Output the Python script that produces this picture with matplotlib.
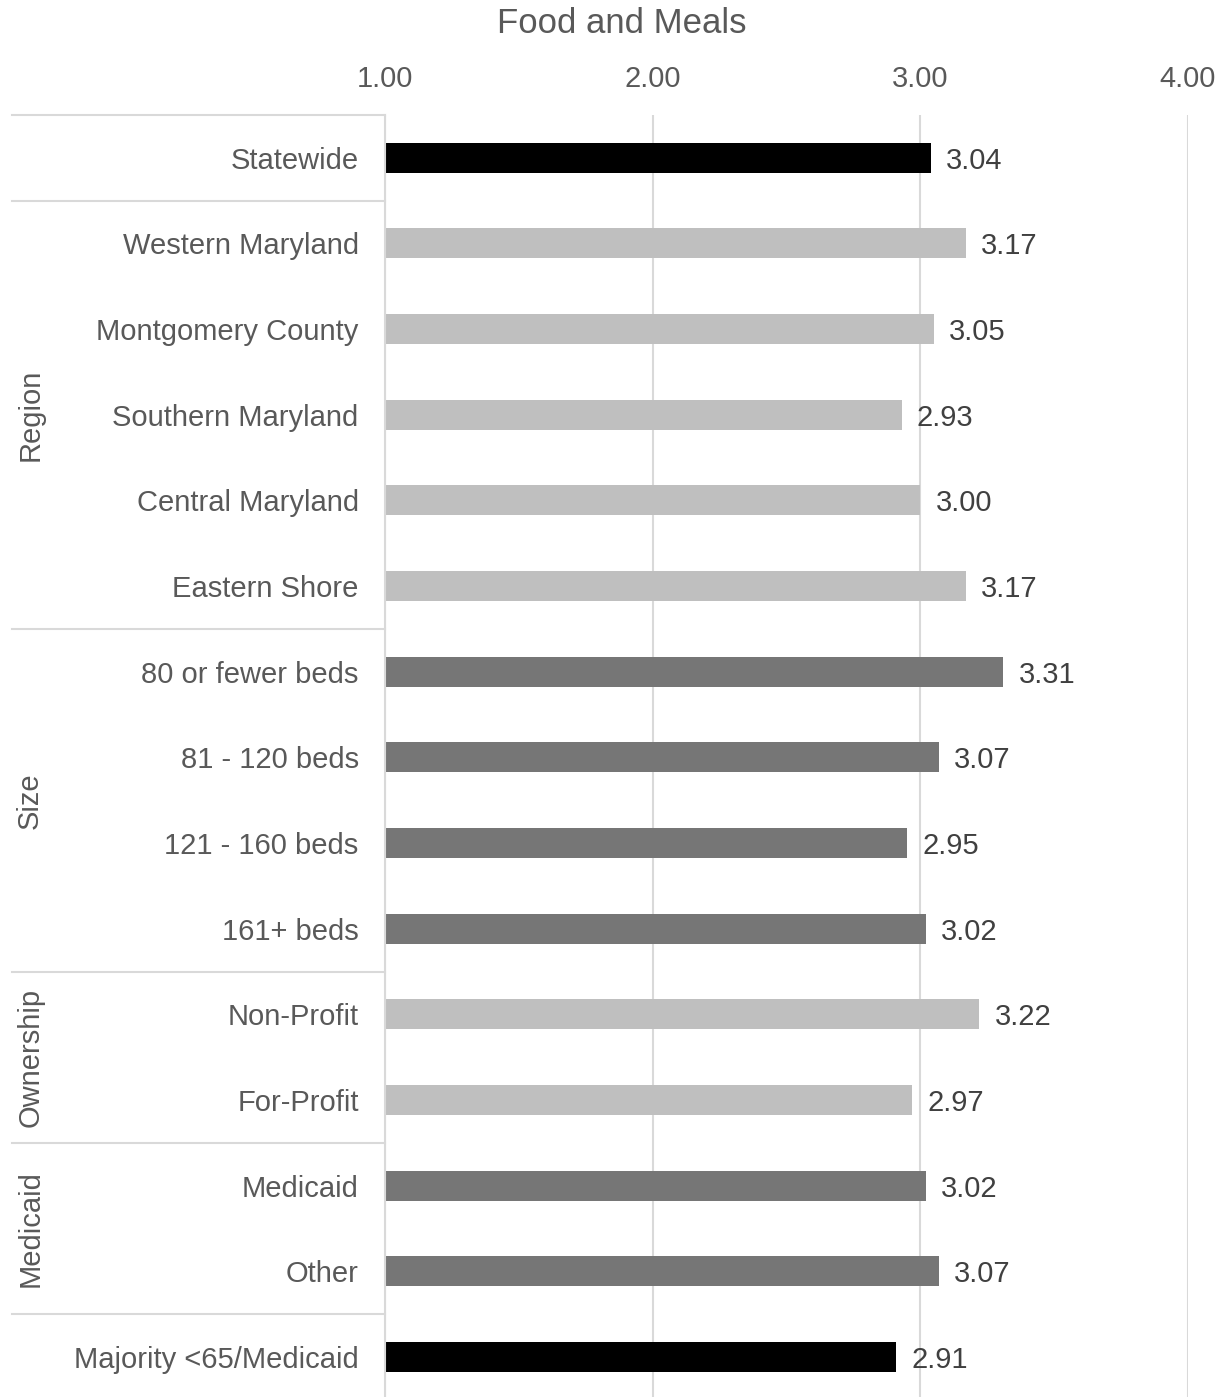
import matplotlib.pyplot as plt
from matplotlib import transforms

plt.rcParams["font.family"] = ["Liberation Sans", "DejaVu Sans"]

labels = [
    "Statewide",
    "Western Maryland", "Montgomery County", "Southern Maryland",
    "Central Maryland", "Eastern Shore",
    "80 or fewer beds", "81 - 120 beds", "121 - 160 beds", "161+ beds",
    "Non-Profit", "For-Profit",
    "Medicaid", "Other",
    "Majority <65/Medicaid",
]
values = [3.04, 3.17, 3.05, 2.93, 3.00, 3.17, 3.31, 3.07, 2.95, 3.02,
          3.22, 2.97, 3.02, 3.07, 2.91]
groups = ["Statewide", "Region", "Region", "Region", "Region", "Region",
          "Size", "Size", "Size", "Size", "Ownership", "Ownership",
          "Medicaid", "Medicaid", "Majority"]
group_colors = {
    "Statewide": "#000000", "Region": "#BFBFBF", "Size": "#767676",
    "Ownership": "#BFBFBF", "Medicaid": "#767676", "Majority": "#000000",
}
group_titles = ["Region", "Size", "Ownership", "Medicaid"]

fig = plt.figure(figsize=(12.27, 13.97), dpi=100)
ax = fig.add_axes([0.3138, -0.0021, 0.6544, 0.9198])

ypos = list(range(len(labels)))
colors = [group_colors[g] for g in groups]
ax.barh(ypos, [v - 1 for v in values], left=1, height=0.35, color=colors, zorder=2)

for y, v in zip(ypos, values):
    ax.annotate(f"{v:.2f}", (v, y), xytext=(11, 0), textcoords="offset points",
                ha="left", va="center_baseline", fontsize=21, color="#404040")

ax.set_xlim(1, 4)
ax.set_ylim(14.5, -0.5)
ax.set_xticks([1, 2, 3, 4])
ax.set_xticklabels(["1.00", "2.00", "3.00", "4.00"])
ax.xaxis.tick_top()
ax.tick_params(axis="x", length=0, pad=16, labelsize=21, labelcolor="#595959")
ax.set_yticks(ypos)
ax.set_yticklabels(labels)
ax.tick_params(axis="y", length=0, pad=19, labelsize=21, labelcolor="#595959")
ax.grid(axis="x", color="#D9D9D9", linewidth=1.5, zorder=0)
for s in ["top", "right", "bottom"]:
    ax.spines[s].set_visible(False)
ax.spines["left"].set_color("#D9D9D9")
ax.spines["left"].set_linewidth(1.5)

fig.text(0.507, 0.983, "Food and Meals", ha="center", va="center",
         fontsize=25, color="#595959")

# separators between groups on the label side
trans = transforms.blended_transform_factory(ax.transAxes, ax.transData)
for yb in [-0.5, 0.5, 5.5, 9.5, 11.5, 13.5]:
    ax.plot([-0.4645, 0], [yb, yb], transform=trans, color="#D9D9D9",
            linewidth=1.5, clip_on=False)

for name in group_titles:
    idx = [i for i, g in enumerate(groups) if g == name]
    yc = (idx[0] + idx[-1]) / 2
    ax.text(-0.442, yc, name, transform=trans, rotation=90, ha="center",
            va="center", fontsize=21, color="#595959")

fig.savefig("out.png", dpi=100)
